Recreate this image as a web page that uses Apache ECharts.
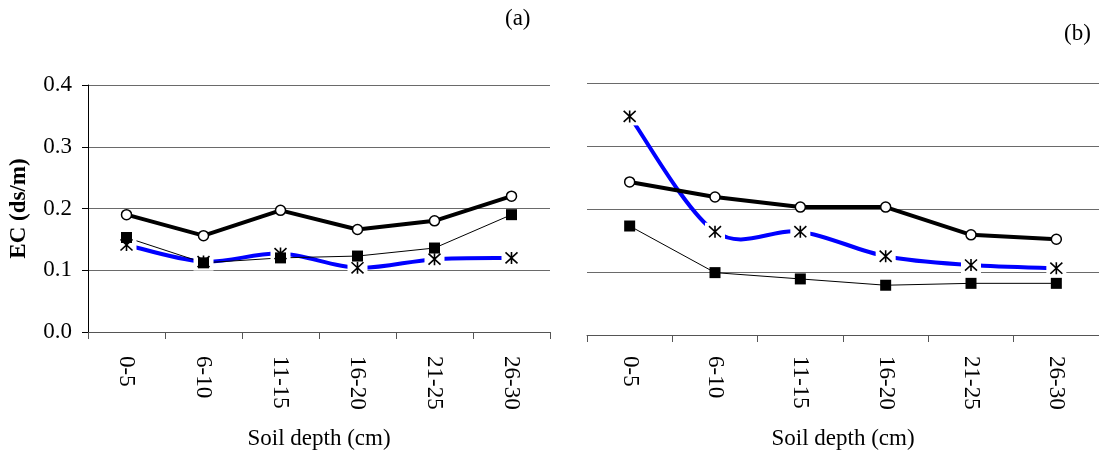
<!DOCTYPE html>
<html>
<head>
<meta charset="utf-8">
<script src="https://cdn.jsdelivr.net/npm/echarts@6/dist/echarts.min.js"></script>
<style>
  html, body { margin: 0; padding: 0; background: #fff; }
  #chart { width: 1099px; height: 455px; }
</style>
</head>
<body>
<div id="chart"></div>
<script>
// Soil depth classes (cm)
const depths = ['0-5', '6-10', '11-15', '16-20', '21-25', '26-30'];
const yTicks = [0, 0.1, 0.2, 0.3, 0.4];

// Panel (a): EC (ds/m) per depth
const aCircle = [0.190, 0.156, 0.197, 0.166, 0.180, 0.220];
const aSquare = [0.153, 0.112, 0.120, 0.123, 0.136, 0.190];
const aStar   = [0.141, 0.114, 0.127, 0.104, 0.118, 0.120];

// Panel (b): EC (ds/m) per depth
const bCircle = [0.243, 0.219, 0.203, 0.203, 0.159, 0.152];
const bSquare = [0.173, 0.099, 0.089, 0.079, 0.082, 0.082];
const bStar   = [0.347, 0.164, 0.164, 0.125, 0.111, 0.106];

const FONT = "'Liberation Serif', 'Times New Roman', serif";
const FS = 23;
const STAR = 'path://M0,0L12,12M12,0L0,12M6,-0.5L6,12.5';

function xAxisFor(idx, margin, gap) {
  return {
    type: 'category', gridIndex: idx, data: depths, boundaryGap: true,
    axisLine: { show: true, lineStyle: { color: '#555', width: 1 } },
    axisTick: { show: true, length: 7, lineStyle: { color: '#555' } },
    axisLabel: { rotate: -90, margin: margin, color: '#000', fontFamily: FONT, fontSize: FS, interval: 0 },
    name: 'Soil depth (cm)', nameLocation: 'middle', nameGap: gap,
    nameTextStyle: { color: '#000', fontFamily: FONT, fontSize: FS }
  };
}

function yAxisFor(idx, showAxis) {
  return {
    type: 'value', gridIndex: idx, min: yTicks[0], max: yTicks[yTicks.length - 1], interval: 0.1,
    axisLine: { show: showAxis, lineStyle: { color: '#000', width: 1 } },
    axisTick: { show: showAxis, length: 6, lineStyle: { color: '#000' } },
    axisLabel: { show: showAxis, margin: 16, color: '#000', fontFamily: FONT, fontSize: FS,
                 formatter: v => v.toFixed(1) },
    splitLine: { show: true, lineStyle: { color: '#6a6a6a', width: 1 } },
    name: showAxis ? 'EC (ds/m)' : '', nameLocation: 'middle', nameGap: 57,
    nameTextStyle: { color: '#000', fontFamily: FONT, fontSize: FS, fontWeight: 'bold' }
  };
}

// Smoothed blue curve: cubic Bezier segments with Catmull-Rom style control points,
// positioned through the axes via api.coord
function smoothCurve(idx, values) {
  return {
    type: 'custom', xAxisIndex: idx, yAxisIndex: idx, z: 2, silent: true,
    data: values.map((v, i) => [i, v]), encode: { x: 0, y: 1 },
    renderItem: (params, api) => {
      if (params.dataIndex !== 0) return null;
      const p = values.map((v, i) => api.coord([i, v]));
      const n = p.length;
      const children = [];
      for (let i = 0; i < n - 1; i++) {
        const p0 = p[Math.max(i - 1, 0)], p1 = p[i], p2 = p[i + 1], p3 = p[Math.min(i + 2, n - 1)];
        children.push({
          type: 'bezierCurve',
          shape: {
            x1: p1[0], y1: p1[1], x2: p2[0], y2: p2[1],
            cpx1: p1[0] + (p2[0] - p0[0]) / 6, cpy1: p1[1] + (p2[1] - p0[1]) / 6,
            cpx2: p2[0] - (p3[0] - p1[0]) / 6, cpy2: p2[1] - (p3[1] - p1[1]) / 6
          },
          style: { fill: null, stroke: '#0000ff', lineWidth: 4 }
        });
      }
      return { type: 'group', children: children };
    }
  };
}

// One panel, layered: lines, white marker backing, markers
function panelSeries(idx, circ, sq, star) {
  const ax = { xAxisIndex: idx, yAxisIndex: idx };
  return [
    smoothCurve(idx, star),
    Object.assign({ type: 'line', data: sq, showSymbol: false, z: 2,
      lineStyle: { color: '#000', width: 1 }, silent: true }, ax),
    Object.assign({ type: 'scatter', data: star, symbol: 'rect', symbolSize: [20, 18], z: 3,
      itemStyle: { color: '#fff', opacity: 1 }, silent: true }, ax),
    Object.assign({ type: 'scatter', data: star, symbol: STAR, symbolSize: 12, z: 4,
      itemStyle: { color: 'none', borderColor: '#000', borderWidth: 1.6, opacity: 1 }, silent: true }, ax),
    Object.assign({ type: 'scatter', data: sq, symbol: 'rect', symbolSize: 11, z: 5,
      itemStyle: { color: '#000', opacity: 1 }, silent: true }, ax),
    Object.assign({ type: 'line', data: circ, symbol: 'circle', symbolSize: 10, showAllSymbol: true, z: 6,
      lineStyle: { color: '#000', width: 4 },
      itemStyle: { color: '#fff', borderColor: '#000', borderWidth: 1.5 }, silent: true }, ax)
  ];
}

const chart = echarts.init(document.getElementById('chart'), null, { renderer: 'canvas' });
chart.setOption({
  backgroundColor: '#fff',
  animation: false,
  title: [
    { text: '(a)', left: 500, top: 2, textStyle: { fontFamily: FONT, fontSize: FS, fontWeight: 'normal', color: '#000' } },
    { text: '(b)', left: 1059, top: 17, textStyle: { fontFamily: FONT, fontSize: FS, fontWeight: 'normal', color: '#000' } }
  ],
  grid: [
    { left: 88, top: 85, width: 462, height: 253 },
    { left: 587, top: 83, width: 517, height: 258 }
  ],
  xAxis: [xAxisFor(0, 24, 95), xAxisFor(1, 21, 92)],
  yAxis: [yAxisFor(0, true), yAxisFor(1, false)],
  series: [].concat(
    panelSeries(0, aCircle, aSquare, aStar),
    panelSeries(1, bCircle, bSquare, bStar)
  )
});
</script>
</body>
</html>
